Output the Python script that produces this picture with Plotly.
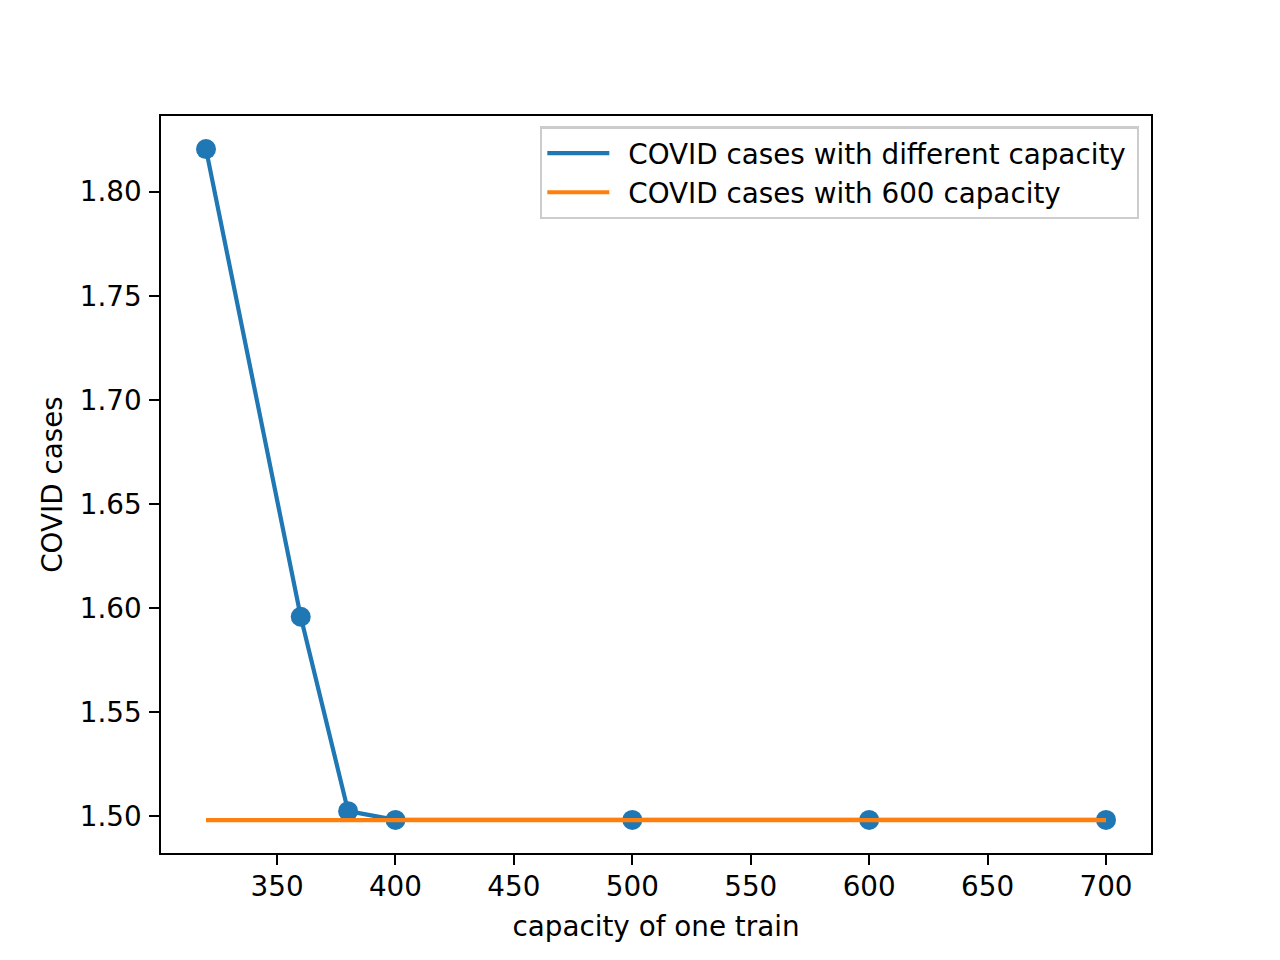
import plotly.graph_objects as go

capacity = [320, 360, 380, 400, 500, 600, 700]
cases_different = [1.8205, 1.5958, 1.5024, 1.4982, 1.4982, 1.4982, 1.4982]
cases_600 = [1.4981, 1.4981, 1.4981, 1.4981, 1.4981, 1.4981, 1.4981]

x_ticks = [350, 400, 450, 500, 550, 600, 650, 700]
y_ticks = [1.50, 1.55, 1.60, 1.65, 1.70, 1.75, 1.80]
y_tick_labels = ["1.50", "1.55", "1.60", "1.65", "1.70", "1.75", "1.80"]

series_names = ["COVID cases with different capacity", "COVID cases with 600 capacity"]

BLUE = "#1f77b4"
ORANGE = "#ff7f0e"
FONT = "DejaVu Sans"
FS = 27.8
PRE = "\u2002"
POST = "\u2009"

fig = go.Figure()
fig.add_trace(go.Scatter(x=capacity, y=cases_different, mode="lines",
                         line=dict(color=BLUE, width=4.2),
                         name=PRE + series_names[0] + POST))
fig.add_trace(go.Scatter(x=capacity, y=cases_different, mode="markers",
                         marker=dict(color=BLUE, size=20, line=dict(width=0)),
                         showlegend=False))
fig.add_trace(go.Scatter(x=[capacity[0], capacity[-1]], y=[cases_600[0], cases_600[-1]], mode="lines",
                         line=dict(color=ORANGE, width=4.2),
                         name=PRE + series_names[1] + POST))

axis_common = dict(showline=True, mirror=True, linecolor="black", linewidth=2.2,
                   ticks="outside", ticklen=9.7, tickwidth=2.2, tickcolor="black",
                   showgrid=False, zeroline=False,
                   tickfont=dict(family=FONT, size=FS, color="black"))

fig.update_xaxes(range=[301, 719], tickvals=x_ticks, ticklabelstandoff=-2,
                 title=dict(text="capacity of one train", font=dict(family=FONT, size=FS, color="black"), standoff=14),
                 **axis_common)
fig.update_yaxes(range=[1.4823, 1.8364], tickvals=y_ticks, ticktext=y_tick_labels, ticklabelstandoff=2,
                 title=dict(text="COVID cases", font=dict(family=FONT, size=FS, color="black"), standoff=9),
                 **axis_common)

fig.update_layout(
    width=1280, height=960,
    margin=dict(l=153, r=137, t=108, b=115),
    plot_bgcolor="white", paper_bgcolor="white",
    font=dict(family=FONT, size=FS, color="black"),
    legend=dict(x=0.988, y=0.986, xanchor="right", yanchor="top",
                bgcolor="rgba(255,255,255,0.8)", bordercolor="#cccccc", borderwidth=2.2,
                font=dict(family=FONT, size=FS, color="black"),
                itemwidth=62, tracegroupgap=0),
    showlegend=True,
)

fig.write_html("out.html")
